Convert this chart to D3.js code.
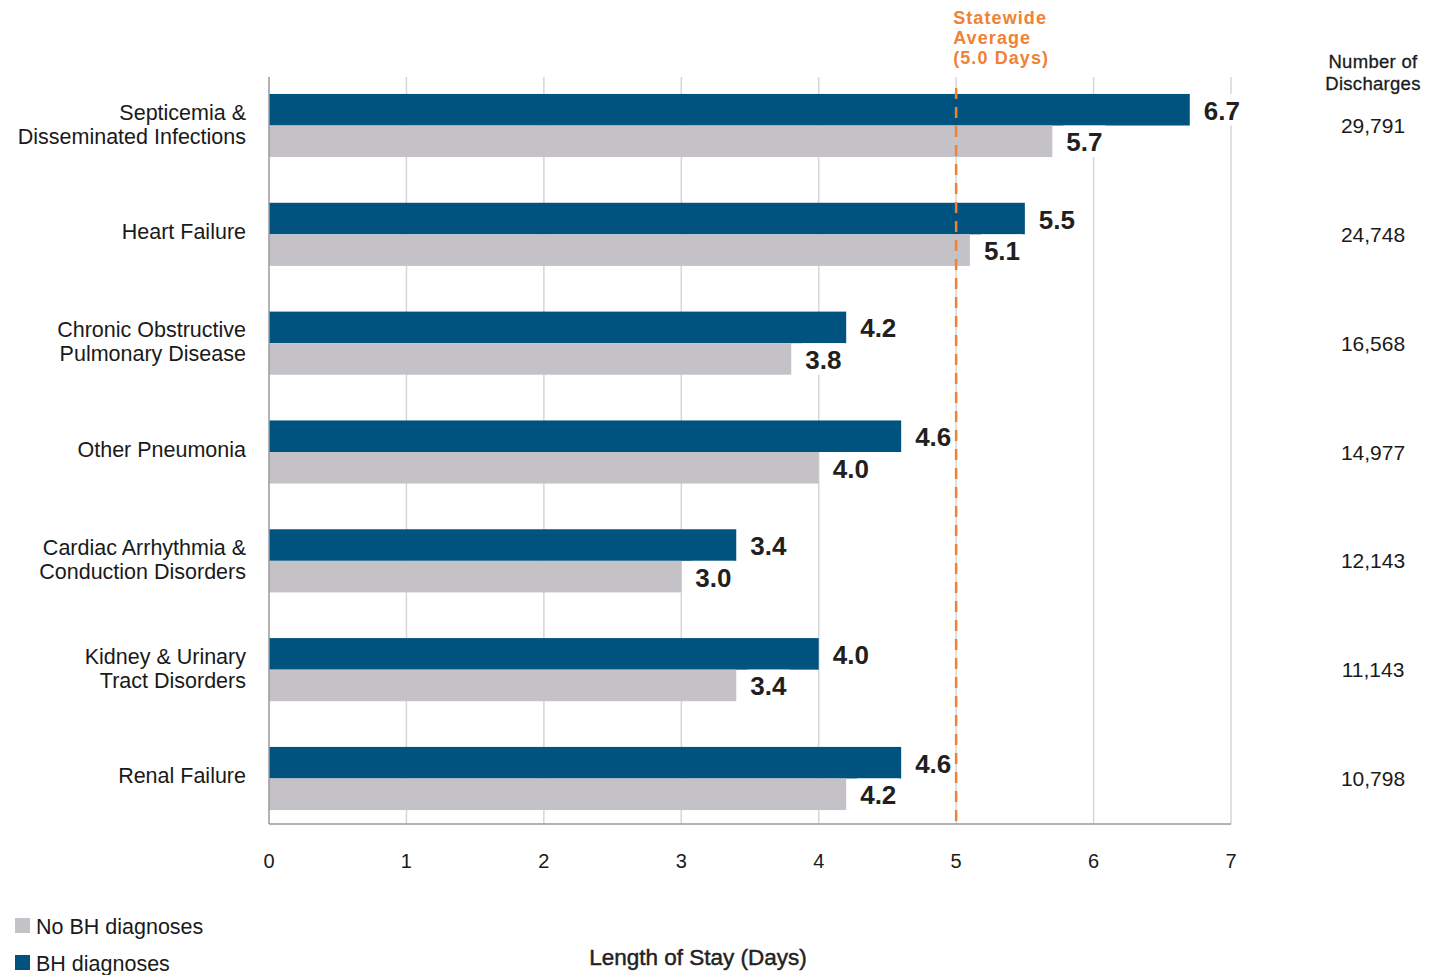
<!DOCTYPE html>
<html>
<head>
<meta charset="utf-8">
<script src="https://cdn.jsdelivr.net/npm/d3@7"></script>
<style>
  html, body { margin: 0; padding: 0; background: #fff; }
  svg { display: block; font-family: "Liberation Sans", Arial, Helvetica, sans-serif; }
</style>
</head>
<body>
<svg id="chart" width="1442" height="975"></svg>
<script>
// Average length of stay by condition, with and without behavioral health diagnoses
const categories = [
  ["Septicemia &", "Disseminated Infections"],
  ["Heart Failure"],
  ["Chronic Obstructive", "Pulmonary Disease"],
  ["Other Pneumonia"],
  ["Cardiac Arrhythmia &", "Conduction Disorders"],
  ["Kidney & Urinary", "Tract Disorders"],
  ["Renal Failure"]
];
const bhValues   = [6.7, 5.5, 4.2, 4.6, 3.4, 4.0, 4.6];
const noBhValues = [5.7, 5.1, 3.8, 4.0, 3.0, 3.4, 4.2];
const discharges = ["29,791", "24,748", "16,568", "14,977", "12,143", "11,143", "10,798"];
const xTicks = [0, 1, 2, 3, 4, 5, 6, 7];
const statewideAverage = 5.0;
const seriesNames = ["BH diagnoses", "No BH diagnoses"];
const seriesColors = ["#00527f", "#c4c2c6"];

const svg = d3.select("#chart");
const plot = { left: 269, right: 1231, top: 77, bottom: 824 };

const keys = categories.map((c, i) => "c" + i);

const x = d3.scaleLinear().domain([0, 7]).range([plot.left, plot.right]);
const y = d3.scaleBand().domain(keys).range([71.1, 832.9])
  .paddingInner(0.42).paddingOuter(0.21);
const ySub = d3.scaleBand().domain([0, 1]).range([0, y.bandwidth()]);

// vertical gridlines
svg.append("g")
  .selectAll("line")
  .data(xTicks.filter(t => t > 0))
  .join("line")
  .attr("x1", d => x(d)).attr("x2", d => x(d))
  .attr("y1", plot.top).attr("y2", plot.bottom)
  .attr("stroke", "#d6d6d6").attr("stroke-width", 1.5);

// bars
const rows = keys.map((k, i) => ({ key: k, vals: [bhValues[i], noBhValues[i]] }));
const groups = svg.append("g").selectAll("g")
  .data(rows).join("g")
  .attr("transform", d => `translate(0,${y(d.key)})`);

groups.selectAll("rect")
  .data(d => d.vals.map((v, s) => ({ v, s })))
  .join("rect")
  .attr("x", x(0))
  .attr("y", d => ySub(d.s))
  .attr("width", d => x(d.v) - x(0))
  .attr("height", ySub.bandwidth())
  .attr("fill", d => seriesColors[d.s]);

// axis lines
svg.append("line")
  .attr("x1", plot.left).attr("x2", plot.left)
  .attr("y1", plot.top).attr("y2", plot.bottom)
  .attr("stroke", "#9a9a9a").attr("stroke-width", 1.5);
svg.append("line")
  .attr("x1", plot.left).attr("x2", plot.right)
  .attr("y1", plot.bottom).attr("y2", plot.bottom)
  .attr("stroke", "#9a9a9a").attr("stroke-width", 1.5);

// statewide average reference line
svg.append("line")
  .attr("x1", x(statewideAverage)).attr("x2", x(statewideAverage))
  .attr("y1", 88).attr("y2", plot.bottom)
  .attr("stroke", "#ef8233").attr("stroke-width", 2.5)
  .attr("stroke-dasharray", "11,8");

// value labels with a white backing
groups.each(function (d) {
  const g = d3.select(this);
  d.vals.forEach((v, s) => {
    const tx = x(v) + 14;
    const ty = ySub(s) + ySub.bandwidth() / 2 + 1;
    const bg = g.append("rect").attr("fill", "#fff");
    const t = g.append("text")
      .attr("x", tx).attr("y", ty)
      .attr("dominant-baseline", "central")
      .attr("font-size", 26).attr("font-weight", "bold")
      .attr("fill", "#231f20")
      .text(v.toFixed(1));
    const bb = t.node().getBBox();
    bg.attr("x", bb.x - 3).attr("y", ySub(s))
      .attr("width", bb.width + 6).attr("height", ySub.bandwidth());
  });
});

// category labels
svg.append("g").selectAll("text")
  .data(categories)
  .join("text")
  .attr("text-anchor", "end")
  .attr("font-size", 21.5)
  .attr("fill", "#1a1a1a")
  .each(function (lines, i) {
    const cy = y(keys[i]) + y.bandwidth() / 2;
    const start = lines.length === 1 ? -2 : -13;
    d3.select(this).selectAll("tspan")
      .data(lines).join("tspan")
      .attr("x", 246)
      .attr("y", (l, j) => cy + start + j * 24)
      .attr("dominant-baseline", "central")
      .text(l => l);
  });

// x tick labels
svg.append("g").selectAll("text")
  .data(xTicks).join("text")
  .attr("x", d => x(d)).attr("y", 861)
  .attr("text-anchor", "middle").attr("dominant-baseline", "central")
  .attr("font-size", 20).attr("fill", "#1a1a1a")
  .text(d => d);

// axis title
svg.append("text")
  .attr("x", 698).attr("y", 957)
  .attr("text-anchor", "middle").attr("dominant-baseline", "central")
  .attr("font-size", 22.5).attr("fill", "#222")
  .attr("stroke", "#222").attr("stroke-width", 0.45)
  .text("Length of Stay (Days)");

// statewide average annotation
svg.append("text")
  .attr("font-size", 18).attr("font-weight", "bold").attr("fill", "#ef8233")
  .attr("letter-spacing", 1.1)
  .selectAll("tspan")
  .data(["Statewide", "Average", "(5.0 Days)"]).join("tspan")
  .attr("x", x(statewideAverage) - 3)
  .attr("y", (d, i) => 18 + i * 20)
  .attr("dominant-baseline", "central")
  .text(d => d);

// discharges column
svg.append("text")
  .attr("text-anchor", "middle").attr("font-size", 18.5).attr("fill", "#1a1a1a")
  .attr("stroke", "#1a1a1a").attr("stroke-width", 0.3)
  .attr("letter-spacing", 0.3)
  .selectAll("tspan")
  .data(["Number of", "Discharges"]).join("tspan")
  .attr("x", 1373).attr("y", (d, i) => 61 + i * 22)
  .attr("dominant-baseline", "central")
  .text(d => d);

svg.append("g").selectAll("text")
  .data(discharges).join("text")
  .attr("x", 1373)
  .attr("y", (d, i) => y(keys[i]) + y.bandwidth() / 2)
  .attr("text-anchor", "middle").attr("dominant-baseline", "central")
  .attr("font-size", 21).attr("fill", "#1a1a1a")
  .text(d => d);

// legend
const legendItems = [
  { name: seriesNames[1], color: seriesColors[1] },
  { name: seriesNames[0], color: seriesColors[0] }
];
const legend = svg.append("g").selectAll("g")
  .data(legendItems).join("g")
  .attr("transform", (d, i) => `translate(15,${918 + i * 37})`);
legend.append("rect")
  .attr("width", 15).attr("height", 15)
  .attr("fill", d => d.color);
legend.append("text")
  .attr("x", 21).attr("y", 9)
  .attr("dominant-baseline", "central")
  .attr("font-size", 21.5).attr("fill", "#1a1a1a")
  .text(d => d.name);
</script>
</body>
</html>
